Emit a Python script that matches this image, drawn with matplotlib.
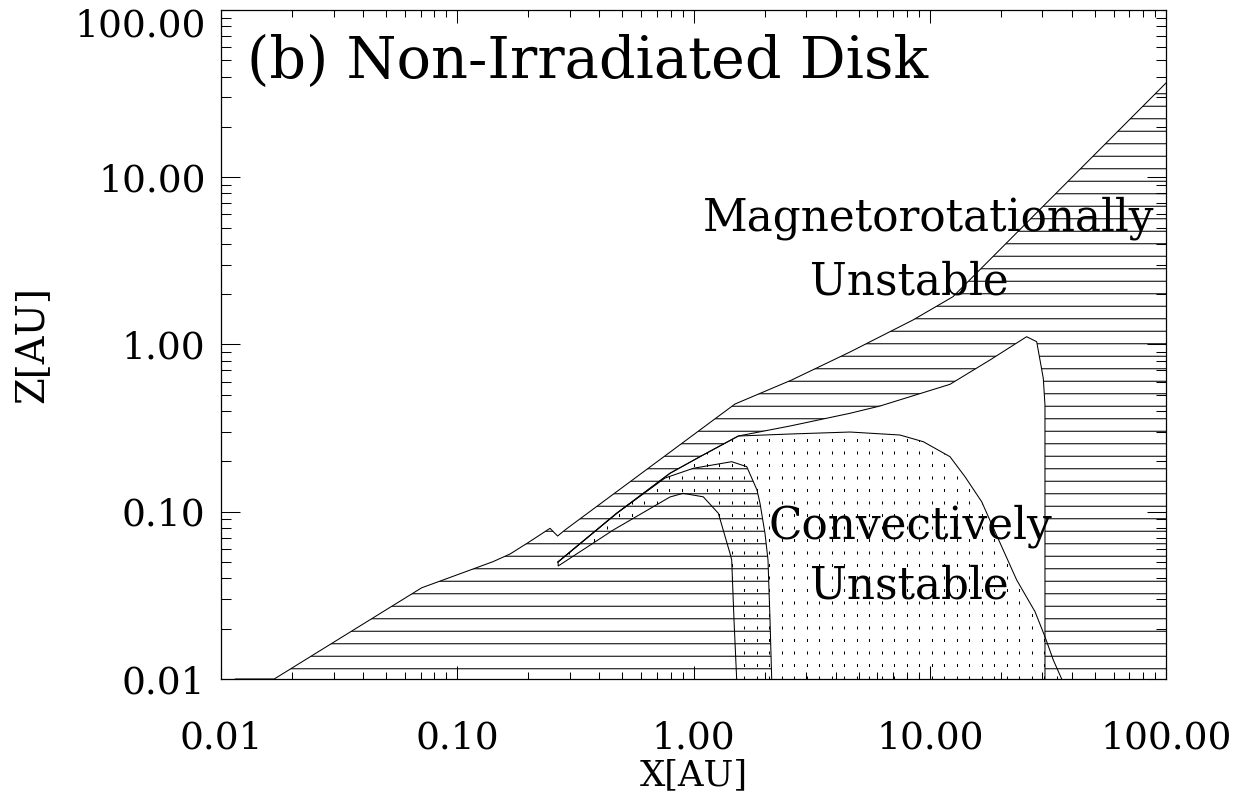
import matplotlib
matplotlib.use("Agg")
import matplotlib.pyplot as plt
import matplotlib.transforms as mtransforms
import numpy as np
from matplotlib.collections import LineCollection
from matplotlib.patches import Polygon
from matplotlib.ticker import FormatStrFormatter, LogLocator, NullFormatter

# boundaries, (X, Z) in AU
surface_x = [0.0115, 0.0168, 0.0707, 0.0902, 0.1417, 0.1673, 0.1993, 0.247, 0.266, 0.2858,
             1.498, 2.604, 4.597, 6.16, 8.49, 12.54, 100.0]
surface_z = [0.01, 0.01, 0.0351, 0.0398, 0.0503, 0.0559, 0.0653, 0.0796, 0.0716, 0.0778,
             0.4406, 0.6135, 0.902, 1.113, 1.401, 1.931, 36.6]

# upper edge of the dead zone (lower edge of the MRI-active surface layer)
dead_top_x = [0.267, 0.473, 0.795, 1.065, 1.548, 2.562, 4.597, 6.16, 12.18, 17.99, 25.7,
              28.36, 30.24, 30.74, 30.74]
dead_top_z = [0.0501, 0.0979, 0.1698, 0.2134, 0.2837, 0.3256, 0.3879, 0.4288, 0.578, 0.808,
              1.113, 1.039, 0.628, 0.4347, 0.01]

# lower / inner edge of the dead zone
dead_low_x = [0.267, 0.473, 0.7575, 0.998, 1.451, 1.680, 1.857, 1.912, 2.007, 2.067, 2.108, 2.143]
dead_low_z = [0.0501, 0.0979, 0.1591, 0.1819, 0.1992, 0.186, 0.1349, 0.1123, 0.0743, 0.0515,
              0.0225, 0.01]

# convectively unstable zone: top edge and inner arc
conv_top_x = [0.267, 0.473, 0.795, 1.065, 1.548, 2.562, 4.597, 7.48, 9.39, 12.18, 14.1, 16.59,
              18.89, 23.33, 27.9, 30.74, 33.34, 36.18]
conv_top_z = [0.0501, 0.0979, 0.1698, 0.2134, 0.2837, 0.2916, 0.2997, 0.2876, 0.2623, 0.2134,
              0.162, 0.1148, 0.076, 0.0391, 0.02526, 0.0179, 0.01299, 0.01]
conv_arc_x = [0.267, 0.2675, 0.4576, 0.795, 0.903, 1.100, 1.274, 1.427, 1.451, 1.484, 1.523]
conv_arc_z = [0.0501, 0.0474, 0.0778, 0.1225, 0.1289, 0.1228, 0.0979, 0.0564, 0.0515, 0.0225, 0.01]

ticks = [0.01, 0.1, 1.0, 10.0, 100.0]

DPI = 75
W, H = 1246, 793
plt.rcParams["font.family"] = ["DejaVu Serif"]
plt.rcParams["hatch.linewidth"] = 1.0
plt.rcParams["lines.scale_dashes"] = False

fig = plt.figure(figsize=(W / DPI, H / DPI), dpi=DPI)
ax_px = (221, 114, 945, 669)  # left, bottom, width, height in pixels
ax = fig.add_axes([ax_px[0] / W, ax_px[1] / H, ax_px[2] / W, ax_px[3] / H])
ax.set_xscale("log")
ax.set_yscale("log")

# MRI-active region: under the disk surface, outside the dead zone
hx = surface_x + [100.0] + dead_top_x[::-1] + dead_low_x
hz = surface_z + [0.01] + dead_top_z[::-1] + dead_low_z
ax.add_patch(Polygon(np.column_stack([hx, hz]), closed=True, facecolor="none",
                     edgecolor="black", linewidth=0, hatch="-"))

# convective region: vertical dotted columns clipped to the zone
cx = conv_top_x + conv_arc_x[::-1]
cz = conv_top_z + conv_arc_z[::-1]
conv_patch = Polygon(np.column_stack([cx, cz]), closed=True, facecolor="none", edgecolor="none")
ax.add_patch(conv_patch)
step = 12.5 / ax_px[2]
cols = np.arange(10.8 / ax_px[2], 1.0, step)
dots = LineCollection([[(c, 0), (c, 1)] for c in cols], transform=ax.transAxes,
                      colors="black", linewidths=1.0, linestyles=[(0, (2.9, 9.1))])
dots.set_clip_path(conv_patch)
ax.add_collection(dots)

for xs, zs in [(surface_x, surface_z), (dead_top_x, dead_top_z), (dead_low_x, dead_low_z),
               (conv_top_x, conv_top_z), (conv_arc_x, conv_arc_z)]:
    ax.plot(xs, zs, color="black", lw=1.0)

ax.set_xlim(0.01, 100)
ax.set_ylim(0.01, 100)
for axis in (ax.xaxis, ax.yaxis):
    axis.set_major_locator(LogLocator(base=10))
    axis.set_minor_locator(LogLocator(base=10, subs=np.arange(2, 10)))
    axis.set_minor_formatter(NullFormatter())
    axis.set_major_formatter(FormatStrFormatter("%.2f"))
ax.set_xticks(ticks)
ax.set_yticks(ticks)

ax.tick_params(which="both", direction="in", top=True, right=True, colors="black",
               labelsize=36, width=1.0)
ax.tick_params(axis="x", which="major", length=12.5, pad=40)
ax.tick_params(axis="x", which="minor", length=6.3)
ax.tick_params(axis="y", which="major", length=18.2, pad=15)
ax.tick_params(axis="y", which="minor", length=9.2)
for sp in ax.spines.values():
    sp.set_linewidth(1.2)

# the top y label sits a little lower so it stays inside the figure
top_label = ax.yaxis.get_majorticklabels()[-1]
top_label.set_transform(top_label.get_transform() +
                        mtransforms.ScaledTranslation(0, -12 / 72, fig.dpi_scale_trans))

ax.set_xlabel("X[AU]", fontsize=34)
ax.xaxis.set_label_coords(0.5, -0.118)
ax.set_ylabel("Z[AU]", fontsize=37)
ax.yaxis.set_label_coords(-0.181, 0.5)

ax.text(0.0275, 0.898, "(b) Non-Irradiated Disk", transform=ax.transAxes,
        fontsize=55, va="baseline", ha="left")
ax.text(0.749, 0.671, "Magnetorotationally", transform=ax.transAxes,
        fontsize=42, va="baseline", ha="center")
ax.text(0.728, 0.574, "Unstable", transform=ax.transAxes,
        fontsize=42, va="baseline", ha="center")
ax.text(0.730, 0.210, "Convectively", transform=ax.transAxes,
        fontsize=42, va="baseline", ha="center")
ax.text(0.728, 0.121, "Unstable", transform=ax.transAxes,
        fontsize=42, va="baseline", ha="center")

fig.savefig("out.png", dpi=DPI)
